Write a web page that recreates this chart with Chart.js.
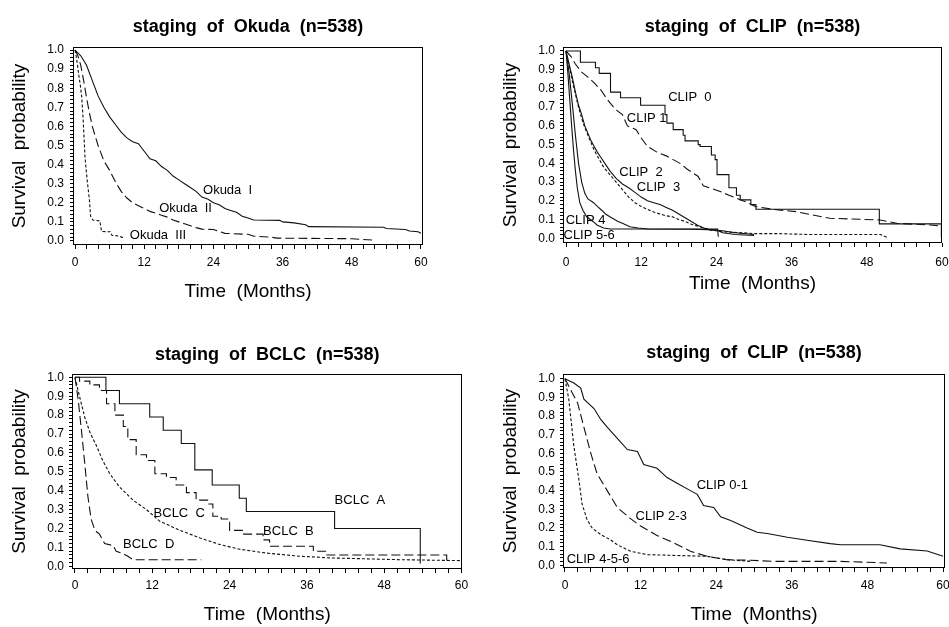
<!DOCTYPE html>
<html>
<head>
<meta charset="utf-8">
<script src="https://cdn.jsdelivr.net/npm/chart.js@4.4.0/dist/chart.umd.min.js"></script>
<style>
  body { margin: 0; background: #fff; }
  #wrap { position: relative; width: 949px; height: 627px; overflow: hidden; background: #fff; }
  #wrap canvas { position: absolute; }
</style>
</head>
<body>
<div id="wrap">
  <canvas id="c1" width="474" height="313" style="left:0;top:0"></canvas>
  <canvas id="c2" width="485" height="313" style="left:474px;top:0"></canvas>
  <canvas id="c3" width="474" height="314" style="left:0;top:313px"></canvas>
  <canvas id="c4" width="485" height="314" style="left:474px;top:313px"></canvas>
</div>
<script>
// tick labels
const monthTicks = [0, 12, 24, 36, 48, 60];
const survTicks = [0.0, 0.1, 0.2, 0.3, 0.4, 0.5, 0.6, 0.7, 0.8, 0.9, 1.0];

// Okuda
const okuda1Time = [0,1,2,3,4,5,6,7,8,9,10,11,12,13,14,15,16,17,18,19,20,21,22,23,24,25,26,27,28,29,30,31,35.5,36,38,40,40.5,53.5,54,57.3,58,59.5,60];
const okuda1Surv = [1.0,0.97,0.92,0.84,0.76,0.70,0.65,0.61,0.57,0.54,0.52,0.51,0.47,0.43,0.42,0.39,0.37,0.34,0.32,0.30,0.28,0.26,0.23,0.22,0.20,0.19,0.17,0.16,0.15,0.13,0.12,0.11,0.108,0.10,0.095,0.085,0.075,0.072,0.065,0.06,0.052,0.048,0.04];
const okuda2Time = [0,0.5,1,1.5,2,2.5,3,3.5,4,4.5,5,6,7,8,9,10,11,12,13,14,15,16,17,18,19,20,21,22,24,25,26,30,31,34,35,48,51.5];
const okuda2Surv = [1,0.97,0.92,0.84,0.75,0.67,0.60,0.55,0.50,0.46,0.42,0.37,0.31,0.26,0.225,0.20,0.185,0.17,0.155,0.145,0.135,0.125,0.11,0.10,0.09,0.08,0.07,0.062,0.06,0.05,0.04,0.035,0.025,0.02,0.015,0.012,0.005];
const okuda3Time = [0,0.3,0.6,0.9,1.16,1.44,1.73,2.1,2.5,2.7,3.1,4.3,4.6,6.1,6.4,7.8,8.0,8.6];
const okuda3Surv = [1,0.95,0.88,0.82,0.755,0.62,0.44,0.32,0.215,0.13,0.11,0.105,0.05,0.048,0.03,0.025,0.02,0.018];

// CLIP, six groups
const clip0Time = [0,2.3,4.7,5.3,7.1,8.7,11.9,15.8,16.1,17.1,18.7,19.0,21.1,21.4,23.2,23.8,24.1,26.0,27.2,27.8,29.5,30.3,50.0,59.9];
const clip0Surv = [1,0.94,0.91,0.88,0.78,0.75,0.71,0.66,0.615,0.58,0.55,0.52,0.50,0.49,0.445,0.42,0.34,0.27,0.23,0.205,0.18,0.155,0.077,0.003];
const clip1Time = [0,0.8,1.5,2.4,3.5,4.5,5.6,6.6,7.6,8.2,9.0,9.8,11.2,11.9,13.0,14.5,16,17.1,18.2,19.3,21.1,21.9,24.6,26,27.5,29,30.2,33,36.8,40,42.1,50.1,52.8,58.1,59.9];
const clip1Surv = [1,0.97,0.93,0.89,0.86,0.83,0.79,0.74,0.70,0.68,0.66,0.60,0.58,0.54,0.49,0.46,0.44,0.42,0.40,0.37,0.33,0.28,0.25,0.23,0.21,0.19,0.17,0.155,0.142,0.12,0.107,0.098,0.08,0.071,0.065];
const clip2Time = [0,0.5,1,1.5,2,2.5,3,3.5,4,4.5,5,5.6,6.2,7,8,9,10,11,12,13,14,15,16,17,18,19,20,21,22,23,25,27,30];
const clip2Surv = [1,0.93,0.86,0.78,0.71,0.66,0.60,0.56,0.52,0.49,0.46,0.43,0.40,0.36,0.32,0.29,0.27,0.245,0.22,0.20,0.19,0.18,0.165,0.15,0.13,0.11,0.09,0.07,0.055,0.045,0.04,0.03,0.02];
const clip3Time = [0,0.5,1,1.5,2,2.5,3,3.5,4,4.5,5,6,7,8,9,10,11,12,13,14,15,16,17,18,19,20,21,22,23,25,28,30,34,39,45,50.2,51.2];
const clip3Surv = [1,0.92,0.84,0.77,0.70,0.64,0.59,0.55,0.51,0.47,0.44,0.38,0.34,0.30,0.26,0.22,0.19,0.17,0.155,0.14,0.13,0.12,0.115,0.10,0.09,0.075,0.065,0.055,0.045,0.035,0.03,0.025,0.025,0.02,0.02,0.02,0.005];
const clip4Time = [0,0.5,1,1.5,2,2.5,3,3.5,4.4,5,5.7,6.3,7,8.3,9,10.2,11.5,13,20,24,25,27,30];
const clip4Surv = [1,0.88,0.72,0.55,0.40,0.30,0.24,0.21,0.19,0.17,0.15,0.13,0.115,0.09,0.08,0.062,0.055,0.05,0.048,0.045,0.03,0.02,0.015];
const clip56Time = [0,0.3,0.6,0.9,1.2,1.5,1.8,2.2,2.7,3.3,4.3,5,6,7,24.2,24.3];
const clip56Surv = [1,0.88,0.74,0.60,0.47,0.36,0.27,0.19,0.15,0.115,0.09,0.07,0.055,0.05,0.05,0.008];

// BCLC
const bclcATime = [0,4.8,6.9,11.6,13.7,16.5,18.6,21.3,25.5,26.6,40.3,53.6];
const bclcASurv = [1,0.93,0.86,0.79,0.72,0.65,0.51,0.43,0.36,0.29,0.20,0.015];
const bclcBTime = [0,0.7,2.3,3.8,4.9,6.2,7.5,8.2,9.5,11.1,12.4,14.2,15.7,17.3,18.8,20.7,21.4,22.7,24,26.1,29.2,30.2,37,39,57.7];
const bclcBSurv = [1,0.98,0.96,0.93,0.86,0.80,0.74,0.67,0.59,0.56,0.49,0.47,0.43,0.39,0.35,0.33,0.265,0.25,0.19,0.17,0.14,0.106,0.08,0.06,0.015];
const bclcCTime = [0,0.7,1.5,2.3,3.3,4.3,5.4,6.9,9.0,11.1,13.1,16.3,19.4,22.5,25.6,29.7,34.9,40,50.4,60];
const bclcCSurv = [1,0.90,0.79,0.71,0.64,0.56,0.49,0.42,0.35,0.30,0.24,0.19,0.15,0.115,0.09,0.07,0.053,0.044,0.035,0.03];
const bclcDTime = [0,0.5,1,1.5,2,2.5,3.1,3.8,4.6,5.9,6.4,7.5,8.2,9.0,19.6];
const bclcDSurv = [1,0.88,0.72,0.55,0.37,0.25,0.19,0.17,0.12,0.11,0.08,0.067,0.053,0.035,0.035];

// CLIP, grouped
const clip01Time = [0,1.4,2.5,3.0,4.6,5.7,6.7,8.3,9.9,11.5,12.5,14.6,16.2,17.8,19.9,21,22,23.6,24.7,26.3,28.9,30.5,32.1,35.3,38.4,42.1,43.7,50,53.2,57.5,60];
const clip01Surv = [1,0.977,0.95,0.89,0.84,0.78,0.74,0.68,0.62,0.61,0.54,0.52,0.47,0.44,0.40,0.38,0.32,0.31,0.26,0.24,0.20,0.177,0.17,0.15,0.134,0.116,0.11,0.11,0.088,0.077,0.048];
const clip23Time = [0,0.9,2.0,3.0,4.1,5.1,6.7,8.3,10.4,12,14.6,17.3,19.9,22.6,25.7,29.4,33.1,43.7,51.1];
const clip23Surv = [1,0.94,0.87,0.74,0.60,0.49,0.40,0.31,0.25,0.21,0.16,0.12,0.075,0.048,0.03,0.027,0.021,0.021,0.0125];
const clip456Time = [0,0.6,1.4,2.2,2.7,3.5,4.3,5.7,7.2,8.3,10.4,13.1,22.6,25.7,29.4];
const clip456Surv = [1,0.89,0.64,0.46,0.33,0.245,0.2,0.164,0.137,0.11,0.075,0.057,0.048,0.03,0.021];

const FONT = '"Liberation Sans", Arial, sans-serif';
const SOLID = [], LONG = [9, 4], SHORT = [3, 2];

const panels = [
  {
    id: 'c1', title: 'staging  of  Okuda  (n=538)',
    curves: [
      { t: okuda1Time, s: okuda1Surv, dash: SOLID },
      { t: okuda2Time, s: okuda2Surv, dash: LONG },
      { t: okuda3Time, s: okuda3Surv, dash: SHORT }
    ],
    labels: [
      { text: 'Okuda  I', x: 22.2, y: 0.266 },
      { text: 'Okuda  II', x: 14.6, y: 0.17 },
      { text: 'Okuda  III', x: 9.5, y: 0.03 }
    ],
    area: { left: 73, right: 423, top: 47, bottom: 245 },
    xr: [-0.35, 60.35], yr: [-0.021, 1.016],
    titleY: 27, yTitleX: 20, yTickPad: 6, xTickY: 263, xTitleY: 292
  },
  {
    id: 'c2', title: 'staging  of  CLIP  (n=538)',
    curves: [
      { t: clip0Time, s: clip0Surv, dash: SOLID, step: true },
      { t: clip1Time, s: clip1Surv, dash: LONG },
      { t: clip2Time, s: clip2Surv, dash: SOLID },
      { t: clip3Time, s: clip3Surv, dash: SHORT },
      { t: clip4Time, s: clip4Surv, dash: SOLID },
      { t: clip56Time, s: clip56Surv, dash: SOLID }
    ],
    labels: [
      { text: 'CLIP  0', x: 16.3, y: 0.75 },
      { text: 'CLIP 1', x: 9.7, y: 0.64 },
      { text: 'CLIP  2', x: 8.5, y: 0.35 },
      { text: 'CLIP  3', x: 11.3, y: 0.27 },
      { text: 'CLIP 4', x: -0.05, y: 0.094 },
      { text: 'CLIP 5-6', x: -0.4, y: 0.016 }
    ],
    area: { left: 89, right: 468, top: 47, bottom: 243 },
    xr: [-0.48, 60], yr: [-0.025, 1.021],
    titleY: 27, yTitleX: 37, yTickPad: 5, xTickY: 263, xTitleY: 284
  },
  {
    id: 'c3', title: 'staging  of  BCLC  (n=538)',
    curves: [
      { t: bclcATime, s: bclcASurv, dash: SOLID, step: true },
      { t: bclcBTime, s: bclcBSurv, dash: LONG, step: true },
      { t: bclcCTime, s: bclcCSurv, dash: SHORT },
      { t: bclcDTime, s: bclcDSurv, dash: LONG }
    ],
    labels: [
      { text: 'BCLC  A', x: 40.3, y: 0.35 },
      { text: 'BCLC  B', x: 29.2, y: 0.185 },
      { text: 'BCLC  C', x: 12.2, y: 0.28 },
      { text: 'BCLC  D', x: 7.45, y: 0.118 }
    ],
    area: { left: 72, right: 463, top: 61, bottom: 256 },
    xr: [-0.465, 60.155], yr: [-0.0143, 1.0175],
    titleY: 42, yTitleX: 20, yTickPad: 5, xTickY: 273, xTitleY: 302
  },
  {
    id: 'c4', title: 'staging  of  CLIP  (n=538)',
    curves: [
      { t: clip01Time, s: clip01Surv, dash: SOLID },
      { t: clip23Time, s: clip23Surv, dash: LONG },
      { t: clip456Time, s: clip456Surv, dash: SHORT }
    ],
    labels: [
      { text: 'CLIP 0-1', x: 20.9, y: 0.427 },
      { text: 'CLIP 2-3', x: 11.2, y: 0.26 },
      { text: 'CLIP 4-5-6', x: 0.26, y: 0.03 }
    ],
    area: { left: 89, right: 471, top: 61, bottom: 255 },
    xr: [-0.317, 60.317], yr: [-0.0145, 1.025],
    titleY: 40, yTitleX: 37, yTickPad: 5, xTickY: 273, xTitleY: 302
  }
];

// minor tick positions: every 2 months, every 0.02
const xTickPos = [];
for (let m = 0; m <= 60; m += 2) xTickPos.push(m);
const yTickPos = [];
for (let k = 0; k <= 50; k++) yTickPos.push(Math.round(k * 2) / 100);

const frame = {
  id: 'frame',
  afterDraw(chart) {
    const { ctx, chartArea: a } = chart;
    ctx.save();
    ctx.strokeStyle = '#000';
    ctx.lineWidth = 1;
    ctx.strokeRect(Math.round(a.left) + 0.5, Math.round(a.top) + 0.5,
      Math.round(a.right - a.left) - 1, Math.round(a.bottom - a.top) - 1);
    ctx.restore();
  }
};

function makeChart(p) {
  const canvas = document.getElementById(p.id);
  const W = canvas.width, H = canvas.height;
  const titleLH = 18 * 1.2, axisLH = 19 * 1.2, tickLH = 12 * 1.2;

  const curveLabels = {
    id: 'curveLabels',
    afterDatasetsDraw(chart) {
      const { ctx, scales } = chart;
      ctx.save();
      ctx.font = '13px ' + FONT;
      ctx.fillStyle = '#000';
      ctx.textBaseline = 'middle';
      ctx.textAlign = 'left';
      p.labels.forEach(l => {
        ctx.fillText(l.text, scales.x.getPixelForValue(l.x), scales.y.getPixelForValue(l.y));
      });
      ctx.restore();
    }
  };

  new Chart(canvas, {
    type: 'line',
    data: {
      datasets: p.curves.map(c => ({
        data: c.t.map((t, i) => ({ x: t, y: c.s[i] })),
        borderColor: '#111',
        borderWidth: 1.1,
        borderDash: c.dash,
        pointRadius: 0,
        fill: false,
        tension: 0,
        stepped: c.step ? 'before' : false
      }))
    },
    options: {
      responsive: false,
      animation: false,
      events: [],
      layout: { padding: { left: 0, right: W - p.area.right, top: 0, bottom: 0 } },
      plugins: {
        legend: { display: false },
        tooltip: { enabled: false },
        title: {
          display: true,
          text: p.title,
          fullSize: false,
          color: '#000',
          font: { family: FONT, size: 18, weight: 'bold' },
          padding: { top: p.titleY - titleLH / 2, bottom: p.area.top - p.titleY - titleLH / 2 }
        }
      },
      scales: {
        x: {
          type: 'linear',
          min: p.xr[0],
          max: p.xr[1],
          afterFit: s => { s.height = H - p.area.bottom; },
          afterBuildTicks: s => { s.ticks = xTickPos.map(v => ({ value: v })); },
          ticks: {
            autoSkip: false,
            maxRotation: 0,
            color: '#000',
            font: { family: FONT, size: 12 },
            padding: p.xTickY - p.area.bottom - 4 - tickLH / 2,
            callback: v => monthTicks.includes(v) ? String(v) : ''
          },
          grid: { drawOnChartArea: false, drawTicks: true, tickLength: 4, color: '#000', tickColor: '#000' },
          border: { display: false },
          title: {
            display: true,
            text: 'Time  (Months)',
            color: '#000',
            font: { family: FONT, size: 19 },
            padding: { top: 0, bottom: H - p.xTitleY - axisLH / 2 }
          }
        },
        y: {
          type: 'linear',
          min: p.yr[0],
          max: p.yr[1],
          afterFit: s => { s.width = p.area.left; },
          afterBuildTicks: s => { s.ticks = yTickPos.map(v => ({ value: v })); },
          ticks: {
            autoSkip: false,
            color: '#000',
            font: { family: FONT, size: 12 },
            padding: p.yTickPad,
            callback: v => survTicks.some(t => Math.abs(t - v) < 1e-6) ? v.toFixed(1) : ''
          },
          grid: { drawOnChartArea: false, drawTicks: true, tickLength: 3, color: '#000', tickColor: '#000' },
          border: { display: false },
          title: {
            display: true,
            text: 'Survival  probability',
            color: '#000',
            font: { family: FONT, size: 19 },
            padding: { top: p.yTitleX - axisLH / 2, bottom: 0 }
          }
        }
      }
    },
    plugins: [frame, curveLabels]
  });
}

panels.forEach(makeChart);
</script>
</body>
</html>
